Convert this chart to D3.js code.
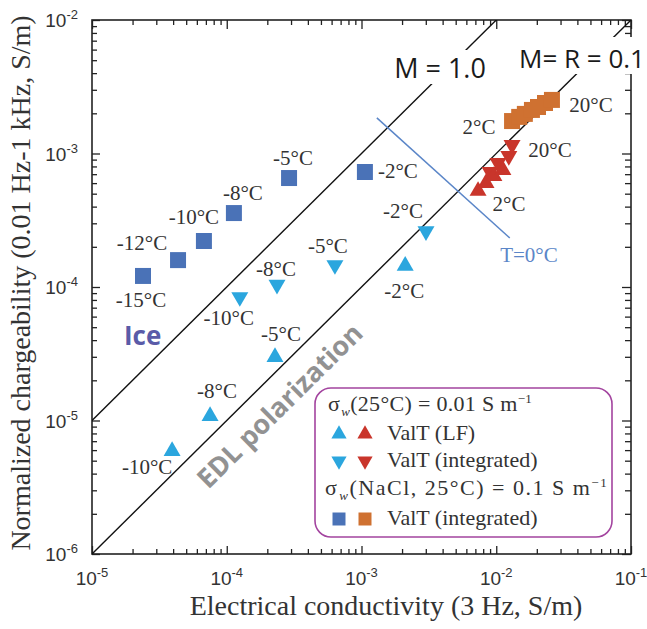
<!DOCTYPE html>
<html>
<head>
<meta charset="UTF-8">
<title>Normalized chargeability vs electrical conductivity</title>
<style>
  body { margin: 0; background: #fff; }
  svg { display: block; }
</style>
</head>
<body>
<svg></svg>
<script src="https://d3js.org/d3.v7.min.js"></script>
<script>

/* DATA */

// sigma_w(NaCl, 25°C) = 0.1 S/m, frozen (blue squares)
var iceTemps = ["-15°C", "-12°C", "-10°C", "-8°C", "-5°C", "-2°C"];
var iceSigma = [2.39e-5, 4.35e-5, 6.77e-5, 1.13e-4, 2.90e-4, 1.06e-3];
var iceM     = [1.21e-4, 1.59e-4, 2.21e-4, 3.58e-4, 6.55e-4, 7.27e-4];

// sigma_w(25°C) = 0.01 S/m, ValT integrated, frozen (light blue down triangles)
var intTemps = ["-10°C", "-8°C", "-5°C", "-2°C"];
var intSigma = [1.25e-4, 2.36e-4, 6.35e-4, 3.01e-3];
var intM     = [8.41e-5, 1.04e-4, 1.46e-4, 2.62e-4];

// sigma_w(25°C) = 0.01 S/m, ValT LF, frozen (light blue up triangles)
var lfTemps = ["-10°C", "-8°C", "-5°C", "-2°C"];
var lfSigma = [3.93e-5, 7.52e-5, 2.28e-4, 2.11e-3];
var lfM     = [5.91e-6, 1.08e-5, 2.99e-5, 1.44e-4];

// 0.1 S/m, 2..20°C (orange squares)
var warmSqTemps = ["2°C", "", "", "", "", "", "20°C"];
var warmSqSigma = [1.31e-2, 1.48e-2, 1.63e-2, 1.84e-2, 2.04e-2, 2.30e-2, 2.59e-2];
var warmSqM     = [1.75e-3, 1.88e-3, 1.98e-3, 2.12e-3, 2.23e-3, 2.39e-3, 2.52e-3];

// 0.01 S/m, LF, 2..20°C (red up triangles)
var warmLfTemps = ["2°C", "", "", ""];
var warmLfSigma = [7.33e-3, 8.40e-3, 9.61e-3, 1.12e-2];
var warmLfM     = [5.24e-4, 6.01e-4, 6.78e-4, 7.52e-4];

// 0.01 S/m, integrated, 2..20°C (red down triangles)
var warmIntTemps = ["", "", "", "20°C"];
var warmIntSigma = [9.0e-3, 1.03e-2, 1.24e-2, 1.31e-2];
var warmIntM     = [7.27e-4, 8.49e-4, 9.58e-4, 1.16e-3];

// reference lines M = factor * sigma
var mFactors = [1.0, 0.1];
var mLabels = ["M = 1.0", "M= R = 0.1"];

// freezing line
var freezeSigma = [1.30e-3, 1.26e-2];
var freezeM     = [1.85e-3, 2.33e-4];

var majorTicks = [1e-5, 1e-4, 1e-3, 1e-2, 1e-1];
var majorTicksY = [1e-6, 1e-5, 1e-4, 1e-3, 1e-2];
var tickExps = ["-5", "-4", "-3", "-2", "-1"];
var tickExpsY = ["-6", "-5", "-4", "-3", "-2"];

/* STYLE / LAYOUT */
var config = {
  width: 647, height: 629,
  left: 92, right: 631, top: 20, bottom: 554,
  serif: "'Liberation Serif', 'Times New Roman', serif",
  sans: "'Liberation Sans', Arial, sans-serif",
  label: "'Open Sans', 'Noto Sans', sans-serif",
  ink: "#222",
  text: "#333",
  darkBlue: "#4a72b7",
  lightBlue: "#2ba6de",
  orange: "#cf7131",
  red: "#c9352b",
  freeze: "#5b86c8",
  legend: "#a3449f"
};

// label offsets (px) from point centre: [dx, dy]
var iceOff = [[-2, 31], [-36, -10], [-10, -17], [9, -13], [4, -13], [33, 6]];
var intOff = [[-11, 28], [-1, -9], [-7, -12], [-23, -13]];
var lfOff = [[-25, 23], [7, -18], [6, -16], [-1, 32]];
var warmSqOff = [[-33, 13], [0, 0], [0, 0], [0, 0], [0, 0], [0, 0], [39, 12]];
var warmLfOff = [[31, 20], [0, 0], [0, 0], [0, 0]];
var warmIntOff = [[0, 0], [0, 0], [0, 0], [38, 12]];

var svg = d3.select("svg")
  .attr("width", config.width)
  .attr("height", config.height);

var x = d3.scaleLog().domain([1e-5, 1e-1]).range([config.left, config.right]);
var y = d3.scaleLog().domain([1e-6, 1e-2]).range([config.bottom, config.top]);

var minorX = x.ticks().filter(function(v){ return majorTicks.indexOf(v) < 0; });
var minorY = y.ticks().filter(function(v){ return majorTicksY.indexOf(v) < 0; });

/* AXES (inward ticks on all four sides) */
function tickAxis(axisFn, scale, tr, values, size){
  svg.append("g")
    .attr("transform", tr)
    .call(axisFn(scale).tickValues(values).tickSizeInner(size).tickSizeOuter(0).tickFormat(""))
    .call(function(g){
      g.select(".domain").remove();
      g.selectAll("line").attr("stroke", config.ink).attr("stroke-width", 1.3);
    });
}
tickAxis(d3.axisBottom, x, "translate(0," + config.bottom + ")", majorTicks, -8);
tickAxis(d3.axisBottom, x, "translate(0," + config.bottom + ")", minorX, -5);
tickAxis(d3.axisTop, x, "translate(0," + config.top + ")", majorTicks, -9);
tickAxis(d3.axisTop, x, "translate(0," + config.top + ")", minorX, -5);
tickAxis(d3.axisLeft, y, "translate(" + config.left + ",0)", majorTicksY, -8);
tickAxis(d3.axisLeft, y, "translate(" + config.left + ",0)", minorY, -5);
tickAxis(d3.axisRight, y, "translate(" + config.right + ",0)", majorTicksY, -9);
tickAxis(d3.axisRight, y, "translate(" + config.right + ",0)", minorY, -6);

svg.append("rect")
  .attr("x", config.left).attr("y", config.top)
  .attr("width", config.right - config.left)
  .attr("height", config.bottom - config.top)
  .attr("fill", "none")
  .attr("stroke", config.ink)
  .attr("stroke-width", 1.6);

// tick labels
majorTicks.forEach(function(v, i){
  var t = svg.append("text")
    .attr("x", x(v)).attr("y", 585)
    .attr("text-anchor", "middle")
    .style("font-family", config.sans).style("font-size", "19px")
    .attr("fill", config.text);
  t.append("tspan").text("10");
  t.append("tspan").attr("dy", -8).style("font-size", "13px").text(tickExps[i]);
});
majorTicksY.forEach(function(v, i){
  var t = svg.append("text")
    .attr("x", 78).attr("y", y(v) + 7)
    .attr("text-anchor", "end")
    .style("font-family", config.sans).style("font-size", "19px")
    .attr("fill", config.text);
  t.append("tspan").text("10");
  t.append("tspan").attr("dy", -8).style("font-size", "13px").text(tickExpsY[i]);
});

// axis titles
svg.append("text")
  .attr("x", 386).attr("y", 615)
  .attr("text-anchor", "middle")
  .style("font-family", config.serif).style("font-size", "28px")
  .attr("fill", config.text)
  .text("Electrical conductivity (3 Hz, S/m)");

svg.append("text")
  .attr("transform", "translate(30,283) rotate(-90)")
  .attr("text-anchor", "middle")
  .style("font-family", config.serif).style("font-size", "28px")
  .attr("fill", config.text)
  .text("Normalized chargeability (0.01 Hz-1 kHz, S/m)");

/* REFERENCE LINES */
svg.append("clipPath").attr("id", "plot")
  .append("rect")
  .attr("x", config.left).attr("y", config.top)
  .attr("width", config.right - config.left)
  .attr("height", config.bottom - config.top);

var line = d3.line()
  .x(function(d){ return x(d[0]); })
  .y(function(d){ return y(d[1]); });

mFactors.forEach(function(m){
  svg.append("path")
    .attr("clip-path", "url(#plot)")
    .attr("d", line([[1e-6, 1e-6 * m], [1, m]]))
    .attr("fill", "none")
    .attr("stroke", "#111")
    .attr("stroke-width", 1.4);
});

svg.append("path")
  .attr("d", line(freezeSigma.map(function(s, i){ return [s, freezeM[i]]; })))
  .attr("fill", "none")
  .attr("stroke", config.freeze)
  .attr("stroke-width", 1.5);

svg.append("text")
  .attr("x", 529).attr("y", 262)
  .attr("text-anchor", "middle")
  .style("font-family", config.serif).style("font-size", "21px")
  .attr("fill", config.freeze)
  .text("T=0°C");

// labels for M lines with white knockout behind them
svg.append("rect").attr("x", 393).attr("y", 50).attr("width", 95).attr("height", 34).attr("fill", "#fff");
svg.append("rect").attr("x", 516).attr("y", 37).attr("width", 131).attr("height", 37).attr("fill", "#fff");
svg.append("text")
  .attr("x", 440).attr("y", 78)
  .attr("text-anchor", "middle")
  .style("font-family", config.label).style("font-size", "27px")
  .attr("fill", "#1a1a1a")
  .text(mLabels[0]);
svg.append("text")
  .attr("x", 519).attr("y", 68)
  .style("font-family", config.label).style("font-size", "26px")
  .attr("fill", "#1a1a1a")
  .text(mLabels[1]);

svg.append("text")
  .attr("x", 124).attr("y", 345)
  .style("font-family", config.label).style("font-size", "26px").style("font-weight", "bold")
  .attr("fill", "#5a5ba8")
  .text("Ice");

svg.append("text")
  .attr("transform", "translate(279,405) rotate(-44.7)")
  .attr("text-anchor", "middle")
  .attr("dominant-baseline", "central")
  .style("font-family", config.label).style("font-size", "27px").style("font-weight", "bold")
  .attr("fill", "#929292")
  .text("EDL polarization");

/* POINTS */
var square = d3.symbol(d3.symbolSquare, 256);
var tri = d3.symbol(d3.symbolTriangle, 125);

function series(sig, m, temps, offs, shape, color, down){
  var pts = sig.map(function(s, i){
    return {sigma: s, m: m[i], temp: temps[i], off: offs[i]};
  });
  var g = svg.append("g");
  g.selectAll("path")
    .data(pts)
    .enter().append("path")
      .attr("d", shape)
      .attr("fill", color)
      .attr("transform", function(d){
        return "translate(" + x(d.sigma) + "," + y(d.m) + ")" + (down ? " rotate(180)" : "");
      });
  g.selectAll("text")
    .data(pts.filter(function(d){ return d.temp; }))
    .enter().append("text")
      .attr("x", function(d){ return x(d.sigma) + d.off[0]; })
      .attr("y", function(d){ return y(d.m) + d.off[1]; })
      .attr("text-anchor", "middle")
      .style("font-family", config.serif).style("font-size", "21px")
      .attr("fill", config.text)
      .text(function(d){ return d.temp; });
}

series(iceSigma, iceM, iceTemps, iceOff, square, config.darkBlue, false);
series(intSigma, intM, intTemps, intOff, tri, config.lightBlue, true);
series(lfSigma, lfM, lfTemps, lfOff, tri, config.lightBlue, false);
series(warmSqSigma, warmSqM, warmSqTemps, warmSqOff, square, config.orange, false);
series(warmIntSigma, warmIntM, warmIntTemps, warmIntOff, tri, config.red, true);
series(warmLfSigma, warmLfM, warmLfTemps, warmLfOff, tri, config.red, false);

/* LEGEND */
var lg = svg.append("g");
lg.append("rect")
  .attr("x", 315).attr("y", 388).attr("width", 297).attr("height", 149).attr("rx", 16)
  .attr("fill", "#fff").attr("stroke", config.legend).attr("stroke-width", 1.6);

function sigmaLine(xp, yp, inner, val, spacing){
  var t = lg.append("text")
    .attr("x", xp).attr("y", yp)
    .style("font-family", config.serif).style("font-size", "22px")
    .style("letter-spacing", spacing + "px")
    .attr("fill", config.text);
  t.append("tspan").text("σ");
  t.append("tspan").attr("dx", 1).attr("dy", 5).style("font-size", "13px").style("font-style", "italic").text("w");
  t.append("tspan").attr("dy", -5).text("(" + inner + ") = " + val + " S m");
  t.append("tspan").attr("dy", -8).style("font-size", "13px").text("−1");
}
sigmaLine(328, 411, "25°C", "0.01", 0.3);
sigmaLine(325, 495, "NaCl, 25°C", "0.1", 1.5);

var legTri = d3.symbol(d3.symbolTriangle, 100);
var legSq = d3.symbol(d3.symbolSquare, 169);
var legendRows = [
  {y: 434, shape: legTri, down: false, colors: [config.lightBlue, config.red], text: "ValT (LF)"},
  {y: 461, shape: legTri, down: true, colors: [config.lightBlue, config.red], text: "ValT (integrated)"},
  {y: 519, shape: legSq, down: false, colors: [config.darkBlue, config.orange], text: "ValT (integrated)"}
];
legendRows.forEach(function(r){
  r.colors.forEach(function(c, j){
    lg.append("path")
      .attr("d", r.shape)
      .attr("fill", c)
      .attr("transform", "translate(" + (339 + j * 26) + "," + r.y + ")" + (r.down ? " rotate(180)" : ""));
  });
  lg.append("text")
    .attr("x", 387).attr("y", r.y + 6)
    .style("font-family", config.serif).style("font-size", "22px")
    .attr("fill", config.text)
    .text(r.text);
});

</script>
</body>
</html>
